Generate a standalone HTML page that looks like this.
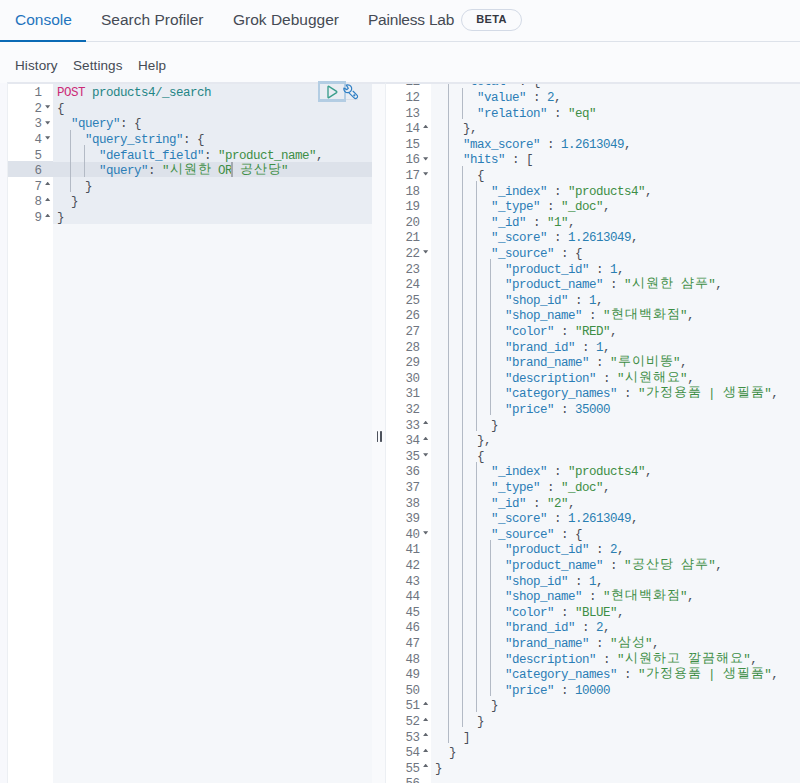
<!DOCTYPE html>
<html><head><meta charset="utf-8">
<style>
*{margin:0;padding:0;box-sizing:border-box}
html,body{width:800px;height:783px;overflow:hidden;background:#f7f8fc;font-family:"Liberation Sans",sans-serif}
.tabs{position:absolute;left:0;top:0;width:800px;height:42px;background:#fafbfd;border-bottom:1px solid #dde2ea}
.tab{position:absolute;top:11px;font-size:15.5px;color:#454a54;white-space:nowrap;line-height:17px}
.tab.sel{color:#1f74bd}
.uline{position:absolute;left:0;top:40px;width:86px;height:2px;background:#0a6ab5}
.beta{position:absolute;left:461px;top:9px;width:61px;height:22px;border:1px solid #d3dae6;border-radius:11px;font-size:11px;font-weight:bold;color:#343741;text-align:center;line-height:19px;letter-spacing:.3px}
.menu{position:absolute;top:58px;font-size:13.5px;color:#454a54;line-height:16px;letter-spacing:.1px}
.topstrip{position:absolute;left:0;top:42px;width:800px;height:41px;background:#fafbfd}
.ed{position:absolute;top:83px;height:702px;overflow:hidden;background:#f5f7fa}
#le{left:7px;top:82px;width:365px;border-top:2px solid #e5e8ef;border-left:1px solid #eceff3}
#re{left:385px;top:82px;width:415px;border-top:2px solid #e5e8ef;border-left:1px solid #eceff3}
.gut{position:absolute;left:0;top:0;width:45px;height:100%;background:#fff}
.code{position:absolute;left:45px;top:0;right:0;height:100%}
.ln{position:absolute;left:0;width:45px;padding-right:11.5px;height:15.6px;text-align:right;font:12.5px/15.6px "Liberation Mono",monospace;letter-spacing:-0.5px;color:#6f7580}
.ln span{position:relative;top:3.3px}
.ln svg{position:absolute;left:36.7px;fill:#62676f}
.ln svg.fd{top:6.4px}
.ln svg.fu{top:5.8px}
.row{position:absolute;left:4px;right:0;height:15.6px;white-space:pre;font:12.5px/15.6px "Liberation Mono",monospace;letter-spacing:-0.5px;color:#343741}
.row .t{position:relative;top:3.3px}
.act{position:absolute;left:0;right:0;top:77.6px;height:15.2px;background:#dde2ea}
.ln.hl{background:#dde2ea}
.row .g{position:absolute;top:0;width:1px;height:15.6px;background:#b3bac5}
.reqbg{position:absolute;left:0;top:0;width:100%;height:140px;background:#e9edf3}
.m{color:#cc2a76}.u{color:#1f8585}.k{color:#2b7db6}.s{color:#3d8e45}.n{color:#2a7fb2}.b{color:#4a4e58}.p{color:#4a4e58}
i.w{font-style:normal;display:inline-block;width:14px;text-align:center;position:relative;top:-1px}
.cursor{position:absolute;width:1px;height:14px;background:#343741}
.split{position:absolute;left:372px;top:82px;width:13px;height:701px;background:#f9fafc;border-top:2px solid #e5e8ef}
.hbar{position:absolute;top:431.3px;width:1.4px;height:11.2px;background:#4d525c;border-radius:.7px}
.playbox{position:absolute;left:318px;top:81px;width:27.5px;height:21px;border:2.8px solid #b3cde3;border-top-width:3px;border-bottom-width:3px}
</style></head><body>
<div class="tabs">
  <div class="tab sel" style="left:15px">Console</div>
  <div class="tab" style="left:101px">Search Profiler</div>
  <div class="tab" style="left:233px">Grok Debugger</div>
  <div class="tab" style="left:368px;letter-spacing:-0.22px">Painless Lab</div>
  <div class="beta">BETA</div>
  <div class="uline"></div>
</div>
<div class="topstrip"></div>
<div class="menu" style="left:15px">History</div>
<div class="menu" style="left:73px">Settings</div>
<div class="menu" style="left:138px">Help</div>

<div class="ed" id="le">
  <div class="gut"><div class="ln" style="top:-1.00px"><span>1</span></div><div class="ln" style="top:14.60px"><span>2</span><svg class="fd" width="6" height="4" viewBox="0 0 6 4"><path d="M0.1 0.2H5.2L2.95 3.3H2.35Z"/></svg></div><div class="ln" style="top:30.20px"><span>3</span><svg class="fd" width="6" height="4" viewBox="0 0 6 4"><path d="M0.1 0.2H5.2L2.95 3.3H2.35Z"/></svg></div><div class="ln" style="top:45.80px"><span>4</span><svg class="fd" width="6" height="4" viewBox="0 0 6 4"><path d="M0.1 0.2H5.2L2.95 3.3H2.35Z"/></svg></div><div class="ln" style="top:61.40px"><span>5</span></div><div class="ln hl" style="top:77.00px"><span>6</span></div><div class="ln" style="top:92.60px"><span>7</span><svg class="fu" width="6" height="4" viewBox="0 0 6 4"><path d="M0.1 3.1H5.2L2.95 0.1H2.35Z"/></svg></div><div class="ln" style="top:108.20px"><span>8</span><svg class="fu" width="6" height="4" viewBox="0 0 6 4"><path d="M0.1 3.1H5.2L2.95 0.1H2.35Z"/></svg></div><div class="ln" style="top:123.80px"><span>9</span><svg class="fu" width="6" height="4" viewBox="0 0 6 4"><path d="M0.1 3.1H5.2L2.95 0.1H2.35Z"/></svg></div></div>
  <div class="code"><div class="reqbg"></div><div class="act"></div><div class="row" style="top:-1.00px"><span class="t"><span class="m">POST</span> <span class="u">products4/_search</span></span></div><div class="row" style="top:14.60px"><span class="t"><span class="b">{</span></span></div><div class="row" style="top:30.20px"><span class="t">  <span class="k">&quot;query&quot;</span><span class="p">:</span><span class="p"> </span><span class="b">{</span></span></div><div class="row" style="top:45.80px"><b class="g" style="left:13.00px"></b><span class="t">    <span class="k">&quot;query_string&quot;</span><span class="p">:</span><span class="p"> </span><span class="b">{</span></span></div><div class="row" style="top:61.40px"><b class="g" style="left:13.00px"></b><b class="g" style="left:27.00px"></b><span class="t">      <span class="k">&quot;default_field&quot;</span><span class="p">:</span><span class="p"> </span><span class="s">&quot;product_name&quot;</span><span class="p">,</span></span></div><div class="row" style="top:77.00px"><b class="g" style="left:13.00px"></b><b class="g" style="left:27.00px"></b><span class="t">      <span class="k">&quot;query&quot;</span><span class="p">:</span><span class="p"> </span><span class="s">&quot;<i class="w">시</i><i class="w">원</i><i class="w">한</i> OR <i class="w">공</i><i class="w">산</i><i class="w">당</i>&quot;</span></span></div><div class="row" style="top:92.60px"><b class="g" style="left:13.00px"></b><span class="t">    <span class="b">}</span></span></div><div class="row" style="top:108.20px"><span class="t">  <span class="b">}</span></span></div><div class="row" style="top:123.80px"><span class="t"><span class="b">}</span></span></div></div>
</div>
<div class="split"></div>
<b class="hbar" style="left:377.1px"></b><b class="hbar" style="left:380.3px"></b>
<div class="ed" id="re">
  <div class="gut"><div class="ln" style="top:-11.85px"><span>11</span><svg class="fd" width="6" height="4" viewBox="0 0 6 4"><path d="M0.1 0.2H5.2L2.95 3.3H2.35Z"/></svg></div><div class="ln" style="top:3.75px"><span>12</span></div><div class="ln" style="top:19.35px"><span>13</span></div><div class="ln" style="top:34.95px"><span>14</span><svg class="fu" width="6" height="4" viewBox="0 0 6 4"><path d="M0.1 3.1H5.2L2.95 0.1H2.35Z"/></svg></div><div class="ln" style="top:50.55px"><span>15</span></div><div class="ln" style="top:66.15px"><span>16</span><svg class="fd" width="6" height="4" viewBox="0 0 6 4"><path d="M0.1 0.2H5.2L2.95 3.3H2.35Z"/></svg></div><div class="ln" style="top:81.75px"><span>17</span><svg class="fd" width="6" height="4" viewBox="0 0 6 4"><path d="M0.1 0.2H5.2L2.95 3.3H2.35Z"/></svg></div><div class="ln" style="top:97.35px"><span>18</span></div><div class="ln" style="top:112.95px"><span>19</span></div><div class="ln" style="top:128.55px"><span>20</span></div><div class="ln" style="top:144.15px"><span>21</span></div><div class="ln" style="top:159.75px"><span>22</span><svg class="fd" width="6" height="4" viewBox="0 0 6 4"><path d="M0.1 0.2H5.2L2.95 3.3H2.35Z"/></svg></div><div class="ln" style="top:175.35px"><span>23</span></div><div class="ln" style="top:190.95px"><span>24</span></div><div class="ln" style="top:206.55px"><span>25</span></div><div class="ln" style="top:222.15px"><span>26</span></div><div class="ln" style="top:237.75px"><span>27</span></div><div class="ln" style="top:253.35px"><span>28</span></div><div class="ln" style="top:268.95px"><span>29</span></div><div class="ln" style="top:284.55px"><span>30</span></div><div class="ln" style="top:300.15px"><span>31</span></div><div class="ln" style="top:315.75px"><span>32</span></div><div class="ln" style="top:331.35px"><span>33</span><svg class="fu" width="6" height="4" viewBox="0 0 6 4"><path d="M0.1 3.1H5.2L2.95 0.1H2.35Z"/></svg></div><div class="ln" style="top:346.95px"><span>34</span><svg class="fu" width="6" height="4" viewBox="0 0 6 4"><path d="M0.1 3.1H5.2L2.95 0.1H2.35Z"/></svg></div><div class="ln" style="top:362.55px"><span>35</span><svg class="fd" width="6" height="4" viewBox="0 0 6 4"><path d="M0.1 0.2H5.2L2.95 3.3H2.35Z"/></svg></div><div class="ln" style="top:378.15px"><span>36</span></div><div class="ln" style="top:393.75px"><span>37</span></div><div class="ln" style="top:409.35px"><span>38</span></div><div class="ln" style="top:424.95px"><span>39</span></div><div class="ln" style="top:440.55px"><span>40</span><svg class="fd" width="6" height="4" viewBox="0 0 6 4"><path d="M0.1 0.2H5.2L2.95 3.3H2.35Z"/></svg></div><div class="ln" style="top:456.15px"><span>41</span></div><div class="ln" style="top:471.75px"><span>42</span></div><div class="ln" style="top:487.35px"><span>43</span></div><div class="ln" style="top:502.95px"><span>44</span></div><div class="ln" style="top:518.55px"><span>45</span></div><div class="ln" style="top:534.15px"><span>46</span></div><div class="ln" style="top:549.75px"><span>47</span></div><div class="ln" style="top:565.35px"><span>48</span></div><div class="ln" style="top:580.95px"><span>49</span></div><div class="ln" style="top:596.55px"><span>50</span></div><div class="ln" style="top:612.15px"><span>51</span><svg class="fu" width="6" height="4" viewBox="0 0 6 4"><path d="M0.1 3.1H5.2L2.95 0.1H2.35Z"/></svg></div><div class="ln" style="top:627.75px"><span>52</span><svg class="fu" width="6" height="4" viewBox="0 0 6 4"><path d="M0.1 3.1H5.2L2.95 0.1H2.35Z"/></svg></div><div class="ln" style="top:643.35px"><span>53</span><svg class="fu" width="6" height="4" viewBox="0 0 6 4"><path d="M0.1 3.1H5.2L2.95 0.1H2.35Z"/></svg></div><div class="ln" style="top:658.95px"><span>54</span><svg class="fu" width="6" height="4" viewBox="0 0 6 4"><path d="M0.1 3.1H5.2L2.95 0.1H2.35Z"/></svg></div><div class="ln" style="top:674.55px"><span>55</span><svg class="fu" width="6" height="4" viewBox="0 0 6 4"><path d="M0.1 3.1H5.2L2.95 0.1H2.35Z"/></svg></div><div class="ln" style="top:690.15px"><span>56</span></div></div>
  <div class="code"><div class="row" style="top:-11.85px"><b class="g" style="left:13.00px"></b><span class="t">    <span class="k">&quot;total&quot;</span><span class="p"> </span><span class="p">:</span><span class="p"> </span><span class="b">{</span></span></div><div class="row" style="top:3.75px"><b class="g" style="left:13.00px"></b><b class="g" style="left:27.00px"></b><span class="t">      <span class="k">&quot;value&quot;</span><span class="p"> </span><span class="p">:</span><span class="p"> </span><span class="n">2</span><span class="p">,</span></span></div><div class="row" style="top:19.35px"><b class="g" style="left:13.00px"></b><b class="g" style="left:27.00px"></b><span class="t">      <span class="k">&quot;relation&quot;</span><span class="p"> </span><span class="p">:</span><span class="p"> </span><span class="s">&quot;eq&quot;</span></span></div><div class="row" style="top:34.95px"><b class="g" style="left:13.00px"></b><span class="t">    <span class="b">}</span><span class="p">,</span></span></div><div class="row" style="top:50.55px"><b class="g" style="left:13.00px"></b><span class="t">    <span class="k">&quot;max_score&quot;</span><span class="p"> </span><span class="p">:</span><span class="p"> </span><span class="n">1.2613049</span><span class="p">,</span></span></div><div class="row" style="top:66.15px"><b class="g" style="left:13.00px"></b><span class="t">    <span class="k">&quot;hits&quot;</span><span class="p"> </span><span class="p">:</span><span class="p"> </span><span class="b">[</span></span></div><div class="row" style="top:81.75px"><b class="g" style="left:13.00px"></b><b class="g" style="left:27.00px"></b><span class="t">      <span class="b">{</span></span></div><div class="row" style="top:97.35px"><b class="g" style="left:13.00px"></b><b class="g" style="left:27.00px"></b><b class="g" style="left:41.00px"></b><span class="t">        <span class="k">&quot;_index&quot;</span><span class="p"> </span><span class="p">:</span><span class="p"> </span><span class="s">&quot;products4&quot;</span><span class="p">,</span></span></div><div class="row" style="top:112.95px"><b class="g" style="left:13.00px"></b><b class="g" style="left:27.00px"></b><b class="g" style="left:41.00px"></b><span class="t">        <span class="k">&quot;_type&quot;</span><span class="p"> </span><span class="p">:</span><span class="p"> </span><span class="s">&quot;_doc&quot;</span><span class="p">,</span></span></div><div class="row" style="top:128.55px"><b class="g" style="left:13.00px"></b><b class="g" style="left:27.00px"></b><b class="g" style="left:41.00px"></b><span class="t">        <span class="k">&quot;_id&quot;</span><span class="p"> </span><span class="p">:</span><span class="p"> </span><span class="s">&quot;1&quot;</span><span class="p">,</span></span></div><div class="row" style="top:144.15px"><b class="g" style="left:13.00px"></b><b class="g" style="left:27.00px"></b><b class="g" style="left:41.00px"></b><span class="t">        <span class="k">&quot;_score&quot;</span><span class="p"> </span><span class="p">:</span><span class="p"> </span><span class="n">1.2613049</span><span class="p">,</span></span></div><div class="row" style="top:159.75px"><b class="g" style="left:13.00px"></b><b class="g" style="left:27.00px"></b><b class="g" style="left:41.00px"></b><span class="t">        <span class="k">&quot;_source&quot;</span><span class="p"> </span><span class="p">:</span><span class="p"> </span><span class="b">{</span></span></div><div class="row" style="top:175.35px"><b class="g" style="left:13.00px"></b><b class="g" style="left:27.00px"></b><b class="g" style="left:41.00px"></b><b class="g" style="left:55.00px"></b><span class="t">          <span class="k">&quot;product_id&quot;</span><span class="p"> </span><span class="p">:</span><span class="p"> </span><span class="n">1</span><span class="p">,</span></span></div><div class="row" style="top:190.95px"><b class="g" style="left:13.00px"></b><b class="g" style="left:27.00px"></b><b class="g" style="left:41.00px"></b><b class="g" style="left:55.00px"></b><span class="t">          <span class="k">&quot;product_name&quot;</span><span class="p"> </span><span class="p">:</span><span class="p"> </span><span class="s">&quot;<i class="w">시</i><i class="w">원</i><i class="w">한</i> <i class="w">샴</i><i class="w">푸</i>&quot;</span><span class="p">,</span></span></div><div class="row" style="top:206.55px"><b class="g" style="left:13.00px"></b><b class="g" style="left:27.00px"></b><b class="g" style="left:41.00px"></b><b class="g" style="left:55.00px"></b><span class="t">          <span class="k">&quot;shop_id&quot;</span><span class="p"> </span><span class="p">:</span><span class="p"> </span><span class="n">1</span><span class="p">,</span></span></div><div class="row" style="top:222.15px"><b class="g" style="left:13.00px"></b><b class="g" style="left:27.00px"></b><b class="g" style="left:41.00px"></b><b class="g" style="left:55.00px"></b><span class="t">          <span class="k">&quot;shop_name&quot;</span><span class="p"> </span><span class="p">:</span><span class="p"> </span><span class="s">&quot;<i class="w">현</i><i class="w">대</i><i class="w">백</i><i class="w">화</i><i class="w">점</i>&quot;</span><span class="p">,</span></span></div><div class="row" style="top:237.75px"><b class="g" style="left:13.00px"></b><b class="g" style="left:27.00px"></b><b class="g" style="left:41.00px"></b><b class="g" style="left:55.00px"></b><span class="t">          <span class="k">&quot;color&quot;</span><span class="p"> </span><span class="p">:</span><span class="p"> </span><span class="s">&quot;RED&quot;</span><span class="p">,</span></span></div><div class="row" style="top:253.35px"><b class="g" style="left:13.00px"></b><b class="g" style="left:27.00px"></b><b class="g" style="left:41.00px"></b><b class="g" style="left:55.00px"></b><span class="t">          <span class="k">&quot;brand_id&quot;</span><span class="p"> </span><span class="p">:</span><span class="p"> </span><span class="n">1</span><span class="p">,</span></span></div><div class="row" style="top:268.95px"><b class="g" style="left:13.00px"></b><b class="g" style="left:27.00px"></b><b class="g" style="left:41.00px"></b><b class="g" style="left:55.00px"></b><span class="t">          <span class="k">&quot;brand_name&quot;</span><span class="p"> </span><span class="p">:</span><span class="p"> </span><span class="s">&quot;<i class="w">루</i><i class="w">이</i><i class="w">비</i><i class="w">똥</i>&quot;</span><span class="p">,</span></span></div><div class="row" style="top:284.55px"><b class="g" style="left:13.00px"></b><b class="g" style="left:27.00px"></b><b class="g" style="left:41.00px"></b><b class="g" style="left:55.00px"></b><span class="t">          <span class="k">&quot;description&quot;</span><span class="p"> </span><span class="p">:</span><span class="p"> </span><span class="s">&quot;<i class="w">시</i><i class="w">원</i><i class="w">해</i><i class="w">요</i>&quot;</span><span class="p">,</span></span></div><div class="row" style="top:300.15px"><b class="g" style="left:13.00px"></b><b class="g" style="left:27.00px"></b><b class="g" style="left:41.00px"></b><b class="g" style="left:55.00px"></b><span class="t">          <span class="k">&quot;category_names&quot;</span><span class="p"> </span><span class="p">:</span><span class="p"> </span><span class="s">&quot;<i class="w">가</i><i class="w">정</i><i class="w">용</i><i class="w">품</i> | <i class="w">생</i><i class="w">필</i><i class="w">품</i>&quot;</span><span class="p">,</span></span></div><div class="row" style="top:315.75px"><b class="g" style="left:13.00px"></b><b class="g" style="left:27.00px"></b><b class="g" style="left:41.00px"></b><b class="g" style="left:55.00px"></b><span class="t">          <span class="k">&quot;price&quot;</span><span class="p"> </span><span class="p">:</span><span class="p"> </span><span class="n">35000</span></span></div><div class="row" style="top:331.35px"><b class="g" style="left:13.00px"></b><b class="g" style="left:27.00px"></b><b class="g" style="left:41.00px"></b><span class="t">        <span class="b">}</span></span></div><div class="row" style="top:346.95px"><b class="g" style="left:13.00px"></b><b class="g" style="left:27.00px"></b><span class="t">      <span class="b">}</span><span class="p">,</span></span></div><div class="row" style="top:362.55px"><b class="g" style="left:13.00px"></b><b class="g" style="left:27.00px"></b><span class="t">      <span class="b">{</span></span></div><div class="row" style="top:378.15px"><b class="g" style="left:13.00px"></b><b class="g" style="left:27.00px"></b><b class="g" style="left:41.00px"></b><span class="t">        <span class="k">&quot;_index&quot;</span><span class="p"> </span><span class="p">:</span><span class="p"> </span><span class="s">&quot;products4&quot;</span><span class="p">,</span></span></div><div class="row" style="top:393.75px"><b class="g" style="left:13.00px"></b><b class="g" style="left:27.00px"></b><b class="g" style="left:41.00px"></b><span class="t">        <span class="k">&quot;_type&quot;</span><span class="p"> </span><span class="p">:</span><span class="p"> </span><span class="s">&quot;_doc&quot;</span><span class="p">,</span></span></div><div class="row" style="top:409.35px"><b class="g" style="left:13.00px"></b><b class="g" style="left:27.00px"></b><b class="g" style="left:41.00px"></b><span class="t">        <span class="k">&quot;_id&quot;</span><span class="p"> </span><span class="p">:</span><span class="p"> </span><span class="s">&quot;2&quot;</span><span class="p">,</span></span></div><div class="row" style="top:424.95px"><b class="g" style="left:13.00px"></b><b class="g" style="left:27.00px"></b><b class="g" style="left:41.00px"></b><span class="t">        <span class="k">&quot;_score&quot;</span><span class="p"> </span><span class="p">:</span><span class="p"> </span><span class="n">1.2613049</span><span class="p">,</span></span></div><div class="row" style="top:440.55px"><b class="g" style="left:13.00px"></b><b class="g" style="left:27.00px"></b><b class="g" style="left:41.00px"></b><span class="t">        <span class="k">&quot;_source&quot;</span><span class="p"> </span><span class="p">:</span><span class="p"> </span><span class="b">{</span></span></div><div class="row" style="top:456.15px"><b class="g" style="left:13.00px"></b><b class="g" style="left:27.00px"></b><b class="g" style="left:41.00px"></b><b class="g" style="left:55.00px"></b><span class="t">          <span class="k">&quot;product_id&quot;</span><span class="p"> </span><span class="p">:</span><span class="p"> </span><span class="n">2</span><span class="p">,</span></span></div><div class="row" style="top:471.75px"><b class="g" style="left:13.00px"></b><b class="g" style="left:27.00px"></b><b class="g" style="left:41.00px"></b><b class="g" style="left:55.00px"></b><span class="t">          <span class="k">&quot;product_name&quot;</span><span class="p"> </span><span class="p">:</span><span class="p"> </span><span class="s">&quot;<i class="w">공</i><i class="w">산</i><i class="w">당</i> <i class="w">샴</i><i class="w">푸</i>&quot;</span><span class="p">,</span></span></div><div class="row" style="top:487.35px"><b class="g" style="left:13.00px"></b><b class="g" style="left:27.00px"></b><b class="g" style="left:41.00px"></b><b class="g" style="left:55.00px"></b><span class="t">          <span class="k">&quot;shop_id&quot;</span><span class="p"> </span><span class="p">:</span><span class="p"> </span><span class="n">1</span><span class="p">,</span></span></div><div class="row" style="top:502.95px"><b class="g" style="left:13.00px"></b><b class="g" style="left:27.00px"></b><b class="g" style="left:41.00px"></b><b class="g" style="left:55.00px"></b><span class="t">          <span class="k">&quot;shop_name&quot;</span><span class="p"> </span><span class="p">:</span><span class="p"> </span><span class="s">&quot;<i class="w">현</i><i class="w">대</i><i class="w">백</i><i class="w">화</i><i class="w">점</i>&quot;</span><span class="p">,</span></span></div><div class="row" style="top:518.55px"><b class="g" style="left:13.00px"></b><b class="g" style="left:27.00px"></b><b class="g" style="left:41.00px"></b><b class="g" style="left:55.00px"></b><span class="t">          <span class="k">&quot;color&quot;</span><span class="p"> </span><span class="p">:</span><span class="p"> </span><span class="s">&quot;BLUE&quot;</span><span class="p">,</span></span></div><div class="row" style="top:534.15px"><b class="g" style="left:13.00px"></b><b class="g" style="left:27.00px"></b><b class="g" style="left:41.00px"></b><b class="g" style="left:55.00px"></b><span class="t">          <span class="k">&quot;brand_id&quot;</span><span class="p"> </span><span class="p">:</span><span class="p"> </span><span class="n">2</span><span class="p">,</span></span></div><div class="row" style="top:549.75px"><b class="g" style="left:13.00px"></b><b class="g" style="left:27.00px"></b><b class="g" style="left:41.00px"></b><b class="g" style="left:55.00px"></b><span class="t">          <span class="k">&quot;brand_name&quot;</span><span class="p"> </span><span class="p">:</span><span class="p"> </span><span class="s">&quot;<i class="w">삼</i><i class="w">성</i>&quot;</span><span class="p">,</span></span></div><div class="row" style="top:565.35px"><b class="g" style="left:13.00px"></b><b class="g" style="left:27.00px"></b><b class="g" style="left:41.00px"></b><b class="g" style="left:55.00px"></b><span class="t">          <span class="k">&quot;description&quot;</span><span class="p"> </span><span class="p">:</span><span class="p"> </span><span class="s">&quot;<i class="w">시</i><i class="w">원</i><i class="w">하</i><i class="w">고</i> <i class="w">깔</i><i class="w">끔</i><i class="w">해</i><i class="w">요</i>&quot;</span><span class="p">,</span></span></div><div class="row" style="top:580.95px"><b class="g" style="left:13.00px"></b><b class="g" style="left:27.00px"></b><b class="g" style="left:41.00px"></b><b class="g" style="left:55.00px"></b><span class="t">          <span class="k">&quot;category_names&quot;</span><span class="p"> </span><span class="p">:</span><span class="p"> </span><span class="s">&quot;<i class="w">가</i><i class="w">정</i><i class="w">용</i><i class="w">품</i> | <i class="w">생</i><i class="w">필</i><i class="w">품</i>&quot;</span><span class="p">,</span></span></div><div class="row" style="top:596.55px"><b class="g" style="left:13.00px"></b><b class="g" style="left:27.00px"></b><b class="g" style="left:41.00px"></b><b class="g" style="left:55.00px"></b><span class="t">          <span class="k">&quot;price&quot;</span><span class="p"> </span><span class="p">:</span><span class="p"> </span><span class="n">10000</span></span></div><div class="row" style="top:612.15px"><b class="g" style="left:13.00px"></b><b class="g" style="left:27.00px"></b><b class="g" style="left:41.00px"></b><span class="t">        <span class="b">}</span></span></div><div class="row" style="top:627.75px"><b class="g" style="left:13.00px"></b><b class="g" style="left:27.00px"></b><span class="t">      <span class="b">}</span></span></div><div class="row" style="top:643.35px"><b class="g" style="left:13.00px"></b><span class="t">    <span class="b">]</span></span></div><div class="row" style="top:658.95px"><span class="t">  <span class="b">}</span></span></div><div class="row" style="top:674.55px"><span class="t"><span class="b">}</span></span></div><div class="row" style="top:690.15px"><span class="t"></span></div></div>
</div>
<div style="position:absolute;left:344px;top:99px;width:14px;height:1px;background:rgba(60,70,90,.08)"></div><div class="playbox"></div><div class="cursor" style="left:231px;top:161.5px;width:1.6px;height:15.2px;background:#a3a8b0"></div>
<svg style="position:absolute;left:326px;top:85px" width="14" height="14" viewBox="0 0 14 14"><path d="M2 1.8 Q2 1 2.8 1.4 L10.6 6.4 Q11.2 7 10.6 7.6 L2.8 12.6 Q2 13 2 12.2 Z" fill="none" stroke="#3a9e8c" stroke-width="1.35" stroke-linejoin="round"/></svg>
<svg style="position:absolute;left:342px;top:83px" width="17" height="17" viewBox="0 0 17 17"><g fill="none" stroke="#2f7fc4" stroke-width="1.2" stroke-linejoin="round" stroke-linecap="round"><path d="M4.27 2.09 A3.95 3.95 0 1 1 1.86 5.06 L4.9 6.6 L6.3 5.3 Z"/><g transform="translate(5.75 5.75) rotate(45)"><path d="M3.4 2 L11 2 A2 2 0 0 0 11 -2 L5.6 -2"/><circle cx="9.3" cy="0" r="0.5" fill="#2f7fc4"/></g></g></svg>
</body></html>
